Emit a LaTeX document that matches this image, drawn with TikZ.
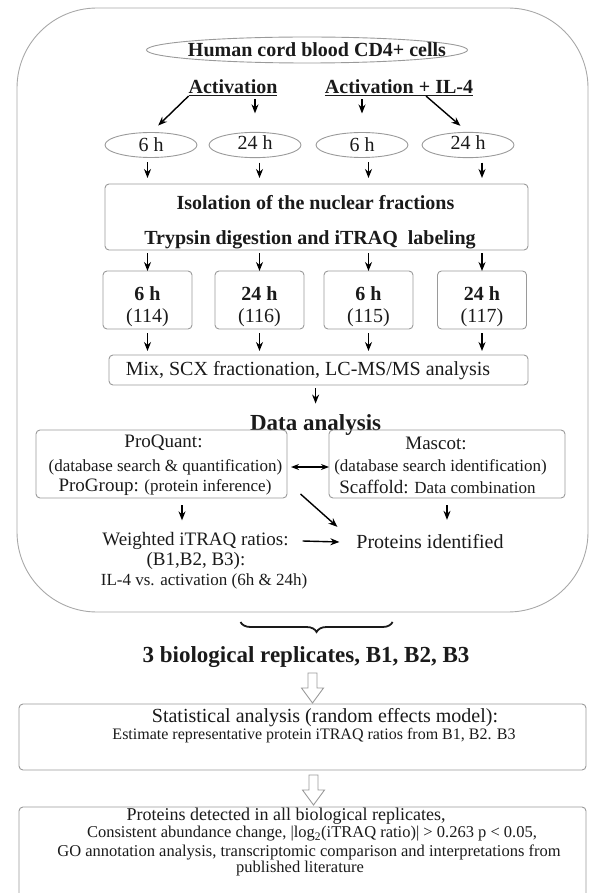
\documentclass[tikz,border=0pt]{standalone}
\usepackage{fontspec}
\setmainfont{Liberation Serif}
\usetikzlibrary{arrows.meta,shapes.geometric,decorations.pathreplacing,calc}
\definecolor{boxgray}{HTML}{9A9A9A}
\definecolor{biggray}{HTML}{A8A8A8}
\definecolor{txt}{HTML}{1A1A1A}
\newcommand\fsz[1]{\fontsize{#1}{#1}\selectfont}
\tikzset{
  hollowarr/.pic={\draw[draw=boxgray, line width=0.9pt, fill=white]
    (-4.5,-30) -- (-4.5,-15) -- (-11,-15) -- (0,0) -- (11,-15) -- (4.5,-15) -- (4.5,-30) -- cycle;}
}
\begin{document}
\begin{tikzpicture}[x=1pt,y=-1pt,
  every node/.style={inner sep=0pt, outer sep=0pt, text=txt},
  gbox/.style={draw=boxgray, line width=0.9pt, rounded corners=4pt},
  arr/.style={draw=black, line width=1.4pt, -{Stealth[length=9pt,width=7pt]}},
  ell/.style={ellipse, draw=boxgray, line width=0.9pt, minimum width=92pt, minimum height=25pt, font=\fsz{20}},
  smallbox/.style={gbox, minimum width=89pt, minimum height=58pt},
  boxtext/.style={align=center, font=\fsz{20}}
]
\useasboundingbox (0,0) rectangle (589,893);
\clip (0,0) rectangle (589,893);

% big container
\node[draw=biggray, line width=0.9pt, rounded corners=80pt, minimum width=571pt, minimum height=604pt] (big) at (302.5,310) {};

% top
\node[ellipse, draw=boxgray, line width=0.9pt, minimum width=321pt, minimum height=26pt] (top) at (307,50) {\makebox[0pt]{\hspace*{20pt}\fsz{20}\bfseries Human cord blood CD4+ cells}};
\node[font=\fsz{20}\bfseries] (act) at (233,88) {\underline{Activation}};
\node[font=\fsz{20}\bfseries] (act2) at (399,88) {\underline{Activation + IL-4}};

\node[ell] (e1) at (151,145) {6 h};
\node[ell] (e2) at (255,145) {\raisebox{4pt}{24 h}};
\node[ell] (e3) at (362,145) {6 h};
\node[ell] (e4) at (468,145) {\raisebox{4pt}{24 h}};

% isolation
\node[gbox, minimum width=423pt, minimum height=66pt] (iso) at (316.5,217) {};
\node[font=\fsz{20}\bfseries] (iso1) at (315.5,203) {Isolation of the nuclear fractions};
\node[font=\fsz{20}\bfseries] (iso2) at (310,240) {Trypsin digestion and iTRAQ\ \ labeling};

% small boxes
\node[smallbox] (b1) at (147.5,300) {};
\node[smallbox] (b2) at (259.5,300) {};
\node[smallbox] (b3) at (368.5,300) {};
\node[smallbox] (b4) at (482,300) {};
\node[boxtext] (t1) at (147.5,307) {\textbf{6 h}\\[2pt](114)};
\node[boxtext] (t2) at (259.5,307) {\textbf{24 h}\\[2pt](116)};
\node[boxtext] (t3) at (368.5,307) {\textbf{6 h}\\[2pt](115)};
\node[boxtext] (t4) at (482,307) {\textbf{24 h}\\[2pt](117)};

% mix
\node[gbox, minimum width=419pt, minimum height=30pt] (mix) at (318.5,370) {};
\node[font=\fsz{20}] (mixt) at (308,371) {Mix, SCX fractionation, LC-MS/MS analysis};

\node[font=\fsz{23}\bfseries] (data) at (315.6,425) {Data analysis};

% analysis boxes
\node[gbox, minimum width=251pt, minimum height=68pt] (lb) at (161.5,464) {};
\node[font=\fsz{19}] (pq) at (163.5,443) {ProQuant:};
\node[font=\fsz{17}] (pq2) at (165.5,467) {(database search \& quantification)};
\node[font=\fsz{17}] (pg) at (165,487) {{\fsz{19}ProGroup:} (protein inference)};
\node[gbox, minimum width=236pt, minimum height=68pt] (rb) at (447,464) {};
\node[font=\fsz{19}] (ma) at (436,443) {Mascot:};
\node[font=\fsz{17}] (ma2) at (440.5,467) {(database search identification)};
\node[font=\fsz{17}] (sc) at (437.5,487) {{\fsz{19}Scaffold:} Data combination};

\node[font=\fsz{19}] (wt) at (195.5,541) {Weighted iTRAQ ratios:};
\node[font=\fsz{19}] (bb) at (196,561) {(B1,B2, B3):};
\node[font=\fsz{17}] (il) at (204,581) {IL-4 vs. activation (6h \& 24h)};
\node[font=\fsz{20}] (pi) at (430,542) {Proteins identified};

% replicates
\node[font=\fsz{23}\bfseries] (rep) at (306,657) {3 biological replicates, B1, B2, B3};

\node[gbox, minimum width=567pt, minimum height=66pt] (stats) at (302.5,737) {};
\node[font=\fsz{20}] (st1) at (325,718) {Statistical analysis (random effects model):};
\node[font=\fsz{16}] (st2) at (314,736) {Estimate representative protein iTRAQ ratios from B1, B2. B3};

\node[gbox, minimum width=567pt, minimum height=100pt] (fin) at (302.5,857) {};
\node[font=\fsz{18}] (f1) at (286,816) {Proteins detected in all biological replicates,};
\node[font=\fsz{16.5}] (f2) at (312,834) {Consistent abundance change, |log\textsubscript{2}(iTRAQ ratio)| > 0.263 p < 0.05,};
\node[font=\fsz{16.5}] (f3) at (309,852) {GO annotation analysis, transcriptomic comparison and interpretations from};
\node[font=\fsz{16.5}] (f4) at (300,869) {published literature};

% arrows top
\draw[arr, shorten >=10pt] (act.south west) -- (e1.north);
\draw[arr, shorten <=3pt, shorten >=19pt] (act.south -| e2.north) -- (e2.north);
\draw[arr, shorten <=3pt, shorten >=19pt] (act2.south -| e3.north) -- (e3.north);
\draw[arr, shorten >=10pt] ([xshift=27pt]act2.south) -- (e4.north);

\foreach \i in {1,2,3,4}{
  \draw[arr, shorten <=5pt, shorten >=6pt] (e\i.south -| b\i.north) -- (iso.north -| b\i.north);
  \draw[arr, shorten <=3pt] (iso.south -| b\i.north) -- (b\i.north);
  \draw[arr, shorten <=4pt, shorten >=4pt] (b\i.south) -- (mix.north -| b\i.south);
}
\draw[arr, shorten <=3pt, shorten >=11pt] (mix.south -| data.north) -- (data.north);

% analysis arrows
\draw[{Stealth[length=8pt,width=6pt]}-{Stealth[length=8pt,width=6pt]}, line width=1.3pt, shorten <=4pt] ([yshift=-3pt]lb.east) -- ([yshift=-3pt]rb.west);
\draw[arr, shorten <=7pt, shorten >=12pt] ([xshift=20.5pt]lb.south) -- ([xshift=-13.5pt]wt.north);
\draw[arr] ($(lb.south east)+(13.5,-4)$) -- ($(pi.north west)+(-19,-8)$);
\draw[arr, shorten <=7pt, shorten >=15pt] (rb.south) -- (pi.north -| rb.south);
\draw[arr] ([xshift=14pt]wt.east) -- ([xshift=-17pt]pi.west);

% brace
\draw[decorate, decoration={brace, mirror, amplitude=10pt}, line width=1.8pt, draw=txt] (240.5,622) -- (392.6,622);

% hollow arrows
\pic at ([xshift=10pt,yshift=1pt]stats.north) {hollowarr};
\pic at ([xshift=11pt,yshift=2pt]fin.north) {hollowarr};
\end{tikzpicture}
\end{document}
